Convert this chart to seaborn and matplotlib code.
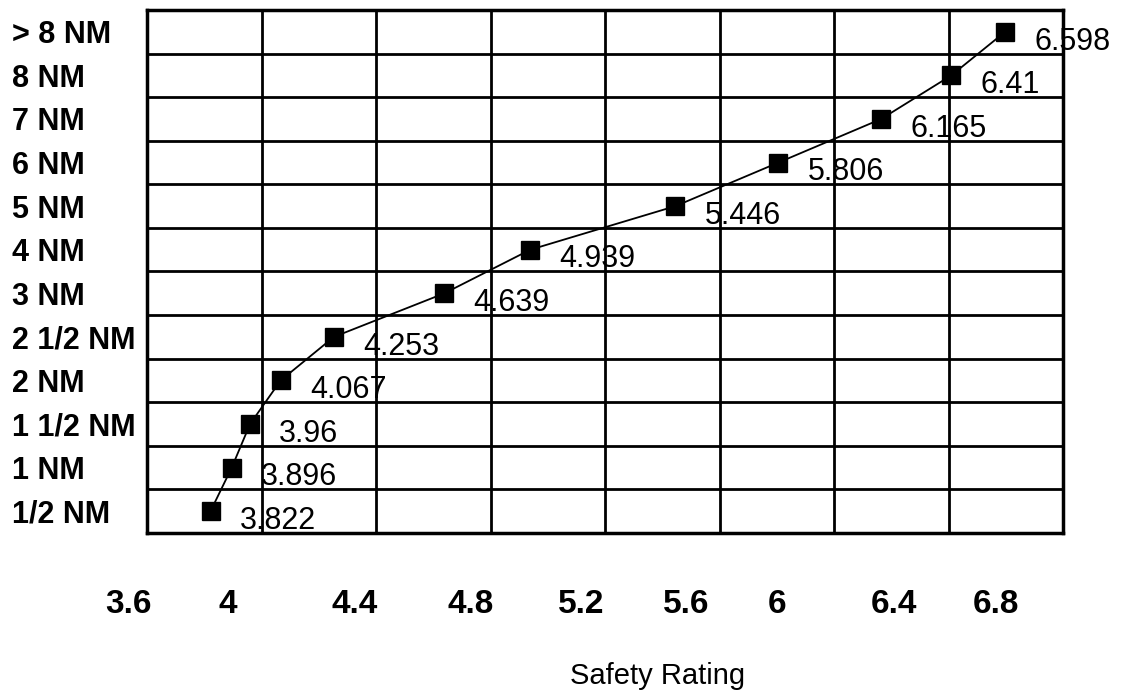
import matplotlib
matplotlib.use("Agg")
import matplotlib.pyplot as plt
import matplotlib.transforms as mtransforms
import numpy as np
import pandas as pd
import seaborn as sns

# ---- data ----
categories = ["> 8 NM", "8 NM", "7 NM", "6 NM", "5 NM", "4 NM", "3 NM",
              "2 1/2 NM", "2 NM", "1 1/2 NM", "1 NM", "1/2 NM"]
ratings = [6.598, 6.41, 6.165, 5.806, 5.446, 4.939, 4.639,
           4.253, 4.067, 3.96, 3.896, 3.822]
value_labels = ["6.598", "6.41", "6.165", "5.806", "5.446", "4.939", "4.639",
                "4.253", "4.067", "3.96", "3.896", "3.822"]
x_ticks = [3.6, 4.0, 4.4, 4.8, 5.2, 5.6, 6.0, 6.4, 6.8]
x_tick_labels = ["3.6", "4", "4.4", "4.8", "5.2", "5.6", "6", "6.4", "6.8"]
x_label = "Safety Rating"

df = pd.DataFrame({"distance": categories, "rating": ratings})

sns.set_theme(style="white")
plt.rcParams["font.family"] = ["Liberation Sans", "DejaVu Sans"]
plt.rcParams["text.color"] = "black"
plt.rcParams["xtick.color"] = "black"
plt.rcParams["ytick.color"] = "black"
plt.rcParams["axes.labelcolor"] = "black"

fig = plt.figure(figsize=(11.24, 6.96), dpi=100)
ax = fig.add_axes([147 / 1124, 1 - 533 / 696, (1063 - 147) / 1124, (533 - 10) / 696])

sns.pointplot(data=df, x="rating", y="distance", order=categories,
              color="black", markers="s", markersize=13.5, linewidth=1.3,
              orient="h", ax=ax, errorbar=None)

ax.set_xlim(3.6, 6.8)
ax.set_ylim(len(categories) - 0.5, -0.5)

ax.set_xticks(x_ticks)
ax.set_xticklabels(x_tick_labels, fontsize=24, fontweight="bold", color="black")
ax.tick_params(axis="x", length=0, pad=40)
ax.set_yticks(range(len(categories)))
ax.set_yticklabels(categories, fontsize=22, fontweight="bold", ha="left", color="black")
ax.tick_params(axis="y", length=0, pad=97)

# grid: vertical at major x ticks, horizontal between rows
ax.set_yticks(np.arange(-0.5, len(categories)), minor=True)
ax.xaxis.grid(True, which="major", color="black", linewidth=2.0)
ax.yaxis.grid(True, which="minor", color="black", linewidth=2.0)
ax.yaxis.grid(False, which="major")
ax.tick_params(axis="y", which="minor", length=0)
ax.set_axisbelow(True)

for sp in ax.spines.values():
    sp.set_visible(True)
    sp.set_color("black")
    sp.set_linewidth(2.5)

# data labels
for i, (v, lab) in enumerate(zip(ratings, value_labels)):
    ax.annotate(lab, xy=(v, i), xytext=(21, -7), textcoords="offset points",
                ha="left", va="center", fontsize=22, color="black",
                annotation_clip=False)

# tick label offsets (scanned layout)
dx_px = [-19, -34, -21, -20, -24, -33, -57, -55, -67]
for lbl, d in zip(ax.get_xticklabels(), dx_px):
    off = mtransforms.ScaledTranslation(d / 100, 0, fig.dpi_scale_trans)
    lbl.set_transform(lbl.get_transform() + off)

ax.set_xlabel("")
ax.set_ylabel("")
fig.text(658 / 1124, 1 - 676 / 696, x_label, ha="center", va="center",
         fontsize=21, color="black")

fig.savefig("out.png", dpi=100, facecolor="white")
